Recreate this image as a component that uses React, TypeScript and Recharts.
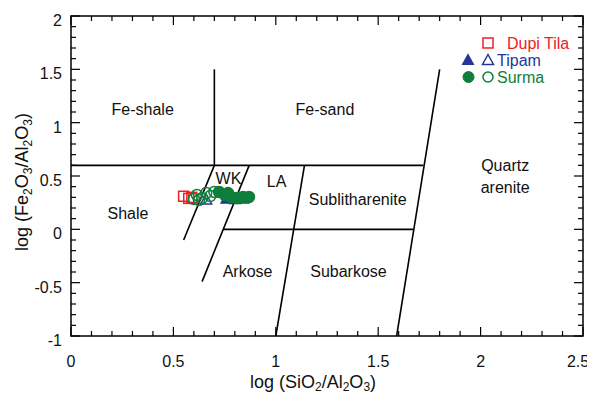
import {
  ScatterChart,
  Scatter,
  XAxis,
  YAxis,
  ReferenceLine,
  ReferenceDot,
  Legend,
} from 'recharts'

const RED = '#ee2024'
const BLUE = '#26359a'
const GREEN = '#0f7d3b'
const INK = '#111'

// log(SiO2/Al2O3) and log(Fe2O3/Al2O3) by formation
const dupiTilaSi = [0.55, 0.575, 0.59]
const dupiTilaFe = [0.31, 0.29, 0.3]
const tipamSi = [0.76, 0.8, 0.84]
const tipamFe = [0.285, 0.28, 0.285]
const tipamOpenSi = [0.66]
const tipamOpenFe = [0.275]
const surmaOpenSi = [0.6, 0.615, 0.64, 0.66, 0.68, 0.7, 0.625]
const surmaOpenFe = [0.284, 0.322, 0.293, 0.34, 0.312, 0.35, 0.275]
const surmaSi = [0.723, 0.752, 0.781, 0.811, 0.84, 0.869, 0.767]
const surmaFe = [0.35, 0.322, 0.303, 0.293, 0.303, 0.303, 0.34]

// axes
const xDomain = [0, 2.5]
const yDomain = [-1, 2]
const xMajor = [0, 0.5, 1, 1.5, 2, 2.5]
const yMajor = [-1, -0.5, 0, 0.5, 1, 1.5, 2]
const xTicks = Array.from({ length: 26 }, (_, i) => i / 10)
const yTicks = Array.from({ length: 31 }, (_, i) => -1 + i / 10)

// Herron (1988) field boundaries, [x1, y1, x2, y2]
const boundaries = [
  [0, 0.6, 1.72, 0.6],
  [0.7, 0.6, 0.7, 1.5],
  [0.7, 0.6, 0.55, -0.1],
  [0.87, 0.6, 0.64, -0.49],
  [0.745, 0, 1.67, 0],
  [1.14, 0.6, 1.0, -1],
  [1.8, 1.5, 1.59, -1],
]

const fieldNames = ['Fe-shale', 'Fe-sand', 'Quartz\narenite', 'Shale', 'WK', 'LA', 'Sublitharenite', 'Arkose', 'Subarkose']
const fieldSi = [0.35, 1.24, 2.12, 0.278, 0.769, 1.004, 1.4, 0.862, 1.355]
const fieldFe = [1.12, 1.12, 0.5, 0.153, 0.481, 0.448, 0.284, -0.39, -0.396]

const zip = (xs: number[], ys: number[]) => xs.map((x, i) => ({ x, y: ys[i] }))

const [xLo, xHi] = xDomain
const [yLo, yHi] = yDomain

// plot box inside the 595 x 400 chart
const PLOT = { left: 71, top: 16, width: 512, height: 320 }
const MARGIN = {
  top: PLOT.top,
  left: PLOT.left,
  right: 595 - PLOT.left - PLOT.width,
  bottom: 400 - PLOT.top - PLOT.height,
}

const MAJOR = 9
const MINOR = 5
const isMajor = (v: number, majors: number[]) => majors.some((m) => Math.abs(m - v) < 1e-6)
const fmt = (v: number) => String(Number(v.toFixed(1)))
const valueOf = (p: any) => p.payload ?? p.node ?? {}

// tick label anchors on the bottom and left edges
const bottomLabels = xMajor.map((v) => ({ x: v, y: yLo }))
const leftLabels = yMajor.map((v) => ({ x: xLo, y: v }))

const bottomLabel = (p: any) => {
  const v = valueOf(p).x
  // last label is pulled in so it stays inside the page
  const nudge = v >= xHi ? -5 : 0
  return (
    <text x={p.cx + nudge} y={p.cy + 31} textAnchor="middle" fontSize={16} fill={INK}>
      {fmt(v)}
    </text>
  )
}

const leftLabel = (p: any) => (
  <text x={p.cx - 9} y={p.cy + 10} textAnchor="end" fontSize={16} fill={INK}>
    {fmt(valueOf(p).y)}
  </text>
)

// frame with inward ticks on all four sides, laid over the plot box
function Frame() {
  const sx = (v: number) => ((v - xLo) / (xHi - xLo)) * PLOT.width
  const sy = (v: number) => ((yHi - v) / (yHi - yLo)) * PLOT.height
  const { width: w, height: h } = PLOT
  return (
    <svg
      width={w}
      height={h}
      style={{ position: 'absolute', left: PLOT.left, top: PLOT.top, overflow: 'visible', pointerEvents: 'none' }}
    >
      <rect x={0} y={0} width={w} height={h} fill="none" stroke="#000" strokeWidth={1.5} />
      {xTicks.map((v) => {
        const len = isMajor(v, xMajor) ? MAJOR : MINOR
        const x = sx(v)
        return (
          <g key={`x${v}`}>
            <line x1={x} y1={h} x2={x} y2={h - len} stroke="#000" strokeWidth={1.2} />
            <line x1={x} y1={0} x2={x} y2={len} stroke="#000" strokeWidth={1.2} />
          </g>
        )
      })}
      {yTicks.map((v) => {
        const len = isMajor(v, yMajor) ? MAJOR : MINOR
        const y = sy(v)
        return (
          <g key={`y${v}`}>
            <line x1={0} y1={y} x2={len} y2={y} stroke="#000" strokeWidth={1.2} />
            <line x1={w} y1={y} x2={w - len} y2={y} stroke="#000" strokeWidth={1.2} />
          </g>
        )
      })}
    </svg>
  )
}

function XTitle({ cx, cy }: any) {
  return (
    <text x={cx} y={cy} textAnchor="middle" fontSize={18} fill={INK}>
      log (SiO<tspan fontSize={12} dy={3}>2</tspan>
      <tspan dy={-3}>/Al</tspan>
      <tspan fontSize={12} dy={3}>2</tspan>
      <tspan dy={-3}>O</tspan>
      <tspan fontSize={12} dy={3}>3</tspan>
      <tspan dy={-3}>)</tspan>
    </text>
  )
}

function YTitle({ cx, cy }: any) {
  return (
    <text x={cx} y={cy} transform={`rotate(-90 ${cx} ${cy})`} textAnchor="middle" fontSize={18} fill={INK}>
      log (Fe<tspan fontSize={12} dy={4}>2</tspan>
      <tspan dy={-4}>O</tspan>
      <tspan fontSize={12} dy={4}>3</tspan>
      <tspan dy={-4}>/Al</tspan>
      <tspan fontSize={12} dy={4}>2</tspan>
      <tspan dy={-4}>O</tspan>
      <tspan fontSize={12} dy={4}>3</tspan>
      <tspan dy={-4}>)</tspan>
    </text>
  )
}

const openSquare = (p: any) => (
  <rect x={p.cx - 5} y={p.cy - 5} width={10} height={10} fill="none" stroke={RED} strokeWidth={1.5} />
)
const triangle = (fill: string) => (p: any) => (
  <path
    d={`M${p.cx},${p.cy - 6} L${p.cx + 5.5},${p.cy + 4} L${p.cx - 5.5},${p.cy + 4} Z`}
    fill={fill}
    stroke={BLUE}
    strokeWidth={1.5}
  />
)
const circle = (fill: string) => (p: any) => (
  <circle cx={p.cx} cy={p.cy} r={5.5} fill={fill} stroke={GREEN} strokeWidth={1.5} />
)

function FieldLabel({ cx, cy, name }: any) {
  const lines = name.split('\n')
  const top = cy - ((lines.length - 1) * 22) / 2
  return (
    <text textAnchor="middle" fontSize={16} fill={INK}>
      {lines.map((l: string, i: number) => (
        <tspan key={l} x={cx} y={top + i * 22} dy="0.35em">
          {l}
        </tspan>
      ))}
    </text>
  )
}

function LegendBox() {
  const row = { position: 'absolute' as const, lineHeight: '17px', fontSize: 16, whiteSpace: 'nowrap' as const }
  return (
    <div style={{ position: 'relative', width: 130, height: 54 }}>
      <svg width={40} height={54} style={{ position: 'absolute', left: 0, top: 0 }}>
        <rect x={23} y={3} width={10} height={10} fill="none" stroke={RED} strokeWidth={1.5} />
        <path d="M8,19.5 L13.5,29.5 L2.5,29.5 Z" fill={BLUE} stroke={BLUE} strokeWidth={1.2} />
        <path d="M28,19.5 L33.5,29.5 L22.5,29.5 Z" fill="none" stroke={BLUE} strokeWidth={1.5} />
        <circle cx={8.5} cy={42} r={5.5} fill={GREEN} stroke={GREEN} />
        <circle cx={28} cy={42} r={5} fill="none" stroke={GREEN} strokeWidth={1.5} />
      </svg>
      <span style={{ ...row, left: 47, top: 0, color: RED }}>Dupi Tila</span>
      <span style={{ ...row, left: 37, top: 17, color: BLUE }}>Tipam</span>
      <span style={{ ...row, left: 37, top: 34, color: GREEN }}>Surma</span>
    </div>
  )
}

export default function App() {
  return (
    <div style={{ margin: -8, position: 'relative', width: 595, height: 400, fontFamily: 'Arial, "Liberation Sans", sans-serif' }}>
      <ScatterChart width={595} height={400} margin={MARGIN}>
        <XAxis dataKey="x" type="number" domain={xDomain} hide />
        <YAxis dataKey="y" type="number" domain={yDomain} hide />

        {boundaries.map(([ax, ay, bx, by], i) => (
          <ReferenceLine
            key={i}
            segment={[
              { x: ax, y: ay },
              { x: bx, y: by },
            ]}
            stroke="#000"
            strokeWidth={1.6}
            ifOverflow="visible"
          />
        ))}

        {fieldNames.map((name, i) => (
          <ReferenceDot
            key={name}
            x={fieldSi[i]}
            y={fieldFe[i]}
            r={0}
            ifOverflow="visible"
            shape={(p: any) => <FieldLabel cx={p.cx} cy={p.cy} name={name} />}
          />
        ))}

        <ReferenceDot
          x={(xLo + xHi) / 2}
          y={yLo}
          r={0}
          ifOverflow="visible"
          shape={(p: any) => <XTitle cx={p.cx - 14} cy={p.cy + 52} />}
        />
        <ReferenceDot
          x={xLo}
          y={(yLo + yHi) / 2}
          r={0}
          ifOverflow="visible"
          shape={(p: any) => <YTitle cx={p.cx - 43.5} cy={p.cy + 6} />}
        />

        <Scatter data={bottomLabels} shape={bottomLabel} isAnimationActive={false} legendType="none" />
        <Scatter data={leftLabels} shape={leftLabel} isAnimationActive={false} legendType="none" />

        <Scatter name="Dupi Tila" data={zip(dupiTilaSi, dupiTilaFe)} shape={openSquare} isAnimationActive={false} />
        <Scatter name="Tipam" data={zip(tipamOpenSi, tipamOpenFe)} shape={triangle('none')} isAnimationActive={false} />
        <Scatter name="Tipam" data={zip(tipamSi, tipamFe)} shape={triangle(BLUE)} isAnimationActive={false} />
        <Scatter name="Surma" data={zip(surmaOpenSi, surmaOpenFe)} shape={circle('none')} isAnimationActive={false} />
        <Scatter name="Surma" data={zip(surmaSi, surmaFe)} shape={circle(GREEN)} isAnimationActive={false} />

        <Legend
          layout="vertical"
          align="center"
          verticalAlign="middle"
          content={() => <LegendBox />}
          wrapperStyle={{ position: 'absolute', top: 35, left: 460, width: 130 }}
        />
      </ScatterChart>
      <Frame />
    </div>
  )
}
